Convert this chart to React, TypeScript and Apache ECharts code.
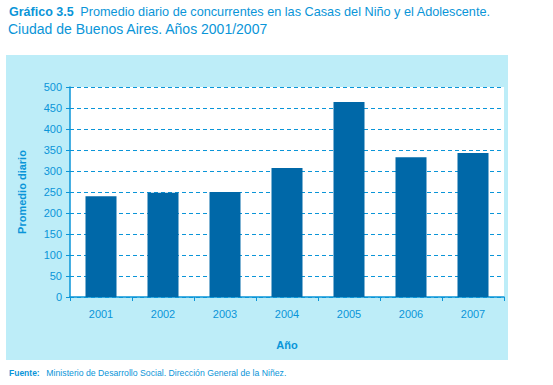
import React, { useEffect, useRef } from "react";
import * as echarts from "echarts";

const years = ["2001", "2002", "2003", "2004", "2005", "2006", "2007"];
const promedio = [240, 248, 250, 307, 464, 333, 343];
const yTicks = { min: 0, max: 500, interval: 50 };

const BLUE = "#0a95d8";
const BAR = "#0068a8";
const PANEL = "#bdedf8";
const FONT = "'Liberation Sans', Arial, sans-serif";

export default function App() {
  const ref = useRef<HTMLDivElement>(null);
  useEffect(() => {
    const chart = echarts.init(ref.current!, null, { renderer: "svg" });
    chart.setOption({
      animation: false,
      backgroundColor: "#ffffff",
      textStyle: { fontFamily: FONT },
      graphic: [
        { type: "rect", z: -10, shape: { x: 6, y: 55, width: 502, height: 305 }, style: { fill: PANEL } },
        {
          type: "text", left: 9, top: 5,
          style: {
            text: "{b|Gráfico 3.5}  {n|Promedio diario de concurrentes en las Casas del Niño y el Adolescente.}",
            rich: {
              b: { fontFamily: FONT, fontSize: 12.5, fontWeight: "bold", fill: BLUE },
              n: { fontFamily: FONT, fontSize: 12.7, fill: BLUE },
            },
          },
        },
        {
          type: "text", left: 8, top: 22,
          style: { text: "Ciudad de Buenos Aires. Años 2001/2007", fontFamily: FONT, fontSize: 14, fill: BLUE },
        },
        {
          type: "text", left: 9, top: 367,
          style: {
            text: "{b|Fuente:}  {n|Ministerio de Desarrollo Social. Dirección General de la Niñez.}",
            rich: {
              b: { fontFamily: FONT, fontSize: 8.5, fontWeight: "bold", fill: BLUE },
              n: { fontFamily: FONT, fontSize: 8.7, fill: BLUE },
            },
          },
        },
      ],
      grid: {
        left: 70, top: 87, width: 434, height: 210,
        show: true, backgroundColor: "#ffffff", borderWidth: 0,
        containLabel: false,
      },
      xAxis: {
        type: "category",
        data: years,
        name: "Año",
        nameLocation: "middle",
        nameGap: 42,
        nameTextStyle: { color: BLUE, fontSize: 11, fontWeight: "bold", fontFamily: FONT },
        axisLine: { lineStyle: { color: BLUE, width: 1.5 } },
        axisTick: { show: true, length: 4, lineStyle: { color: BLUE } },
        axisLabel: { color: BLUE, fontSize: 11, margin: 11, fontFamily: FONT },
      },
      yAxis: {
        type: "value",
        min: yTicks.min,
        max: yTicks.max,
        interval: yTicks.interval,
        name: "Promedio diario",
        nameLocation: "middle",
        nameGap: 43,
        nameTextStyle: { color: BLUE, fontSize: 11, fontWeight: "bold", fontFamily: FONT },
        axisLine: { show: true, lineStyle: { color: BLUE, width: 1.5 } },
        axisTick: { show: true, length: 4, lineStyle: { color: BLUE } },
        axisLabel: { color: BLUE, fontSize: 11, margin: 8, fontFamily: FONT },
        splitLine: { show: true, lineStyle: { color: BLUE, type: [4, 3], width: 1 } },
      },
      series: [
        {
          type: "bar",
          data: promedio,
          barWidth: "50%",
          itemStyle: { color: BAR },
        },
      ],
    });
    return () => chart.dispose();
  }, []);
  return <div ref={ref} style={{ position: "fixed", left: 0, top: 0, width: 553, height: 385 }} />;
}
